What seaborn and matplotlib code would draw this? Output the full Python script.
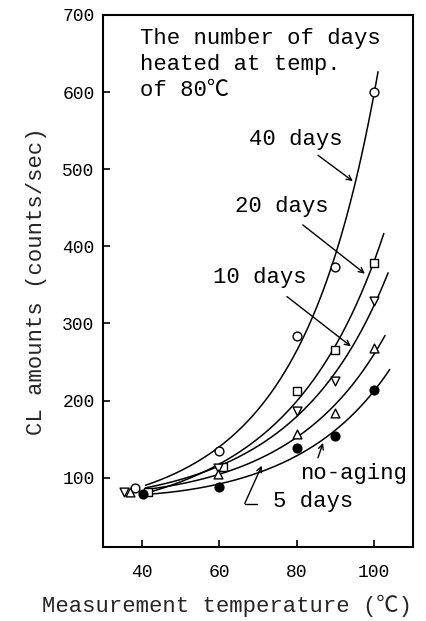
import numpy as np
import pandas as pd
import matplotlib
matplotlib.use("Agg")
import matplotlib.pyplot as plt
import seaborn as sns

# ---- data ----
series_names = ["40 days", "20 days", "10 days", "5 days", "no-aging"]
x_40d = [38.4, 60.0, 80.0, 90.0, 100.0]
y_40d = [87, 134, 284, 373, 600]
x_20d = [41.6, 61.0, 80.0, 90.0, 100.0]
y_20d = [82, 114, 213, 265, 378]
x_10d = [35.4, 59.6, 80.0, 90.0, 100.0]
y_10d = [82, 113, 187, 225, 329]
x_5d = [37.0, 59.6, 80.0, 90.0, 100.0]
y_5d = [82, 105, 156, 184, 268]
x_na = [40.3, 60.0, 80.0, 90.0, 100.0]
y_na = [79, 88, 138, 154, 214]
curve_end = [101.0, 102.5, 103.6, 102.8, 104.0]

x_ticks = [40, 60, 80, 100]
y_ticks = [100, 200, 300, 400, 500, 600, 700]

xs = [x_40d, x_20d, x_10d, x_5d, x_na]
ys = [y_40d, y_20d, y_10d, y_5d, y_na]
markers = ["o", "s", "v", "^", "o"]
faces = ["white", "white", "white", "white", "black"]

sns.set_theme(style="ticks")
FONT = ["Liberation Mono", "Noto Sans CJK JP", "DejaVu Sans"]
plt.rcParams["font.family"] = FONT
plt.rcParams["text.color"] = "black"
FS = 16

fig = plt.figure(figsize=(4.27, 6.21), dpi=100)
ax = fig.add_axes([0.241, 0.119, 0.726, 0.857])

# fitted smooth curves
rows = []
for name, x, y, xe in zip(series_names, xs, ys, curve_end):
    c = np.polyfit(np.array(x), np.log(np.array(y, float)), 2)
    xx = np.linspace(41.0, xe, 200)
    yy = np.exp(np.polyval(c, xx))
    rows.append(pd.DataFrame({"T": xx, "CL": yy, "series": name}))
curves = pd.concat(rows, ignore_index=True)
sns.lineplot(data=curves, x="T", y="CL", units="series", estimator=None,
             color="black", lw=1.1, ax=ax, sort=False)

for name, x, y, m, fc in zip(series_names, xs, ys, markers, faces):
    df = pd.DataFrame({"T": x, "CL": y})
    sns.scatterplot(data=df, x="T", y="CL", marker=m, s=40, color=fc,
                    edgecolor="black", linewidth=1.0, ax=ax, zorder=5)

ax.set_xlim(30, 110)
ax.set_ylim(10, 700)
ax.set_xticks(x_ticks)
ax.set_yticks(y_ticks)
ax.tick_params(direction="in", length=5, width=1.2, labelsize=13, colors="black")
ax.tick_params(axis="x", pad=12)
ax.tick_params(axis="y", pad=6)
for s in ax.spines.values():
    s.set_linewidth(1.5)
    s.set_color("black")
    s.set_visible(True)

ax.set_xlabel("Measurement temperature (\u2103)", fontsize=FS)
ax.set_ylabel("CL amounts (counts/sec)", fontsize=FS)
ax.xaxis.set_label_coords(0.40, -0.09)
ax.yaxis.set_label_coords(-0.18, 0.5)

ax.text(39.5, 683, "The number of days\nheated at temp.\nof 80\u2103", fontsize=FS,
        va="top", ha="left", linespacing=1.3)

arrow = dict(arrowstyle="->", color="black", lw=1.0, mutation_scale=9,
             shrinkA=0, shrinkB=0)
ax.text(67.6, 539, "40 days", fontsize=FS, va="center", ha="left")
ax.annotate("", xy=(94.5, 484.5), xytext=(85.5, 518), arrowprops=arrow)
ax.text(64.0, 452, "20 days", fontsize=FS, va="center", ha="left")
ax.annotate("", xy=(97.6, 364.5), xytext=(81.6, 427.7), arrowprops=arrow)
ax.text(58.3, 359, "10 days", fontsize=FS, va="center", ha="left")
ax.annotate("", xy=(94.0, 270.3), xytext=(77.5, 334.8), arrowprops=arrow)
ax.text(80.8, 105, "no-aging", fontsize=FS, va="center", ha="left")
ax.annotate("", xy=(86.8, 145), xytext=(85.5, 125.8), arrowprops=arrow)
ax.text(73.8, 69, "5 days", fontsize=FS, va="center", ha="left")
ax.plot([66.6, 69.7], [66.5, 66.5], color="black", lw=1.0)
ax.annotate("", xy=(71.0, 115.5), xytext=(66.6, 66.5), arrowprops=arrow)

fig.savefig("out.png", dpi=100)
